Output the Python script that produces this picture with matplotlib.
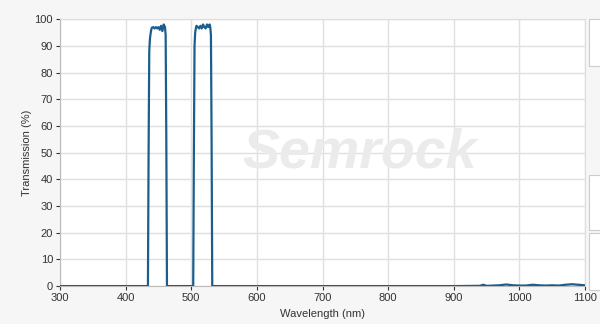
import matplotlib
matplotlib.use("Agg")
import matplotlib.pyplot as plt
from matplotlib.patches import Rectangle

plt.rcParams['font.family'] = ['Liberation Sans', 'DejaVu Sans']

wavelength = [300, 434, 435, 436, 437, 438, 439, 440, 442, 444, 446, 448, 450, 452, 454, 456, 458, 460, 461, 462, 463, 500,
              503, 504, 505, 506, 507, 508, 510, 512, 514, 516, 518, 520, 522, 524, 526, 528, 529, 530, 531, 532, 600,
              900, 940, 945, 950, 960, 970, 980, 990, 1000, 1010, 1020, 1030, 1040, 1050, 1060, 1070, 1080, 1090, 1100]
transmission = [0, 0, 50, 88, 92.5, 94.5, 96, 96.8, 97, 96.5, 97, 96.5, 97, 96, 97.5, 95.5, 98, 97, 94, 55, 0, 0,
                0, 50, 90, 95, 96.5, 97.5, 97, 96.5, 97.5, 96.5, 98, 97, 96.5, 98, 97, 98, 97, 94, 55, 0, 0,
                0, 0.1, 0.5, 0.1, 0.2, 0.3, 0.6, 0.3, 0.2, 0.2, 0.5, 0.3, 0.2, 0.3, 0.2, 0.5, 0.7, 0.5, 0.3]

x_ticks = [300, 400, 500, 600, 700, 800, 900, 1000, 1100]
y_ticks = [0, 10, 20, 30, 40, 50, 60, 70, 80, 90, 100]

fig = plt.figure(figsize=(6, 3.24), dpi=100, facecolor="#f6f6f6")
ax = fig.add_axes([0.1, 0.117, 0.875, 0.824])
ax.set_facecolor("white")

ax.plot(wavelength, transmission, color="#1b5e8c", lw=1.6, zorder=3)

ax.set_xlim(300, 1100)
ax.set_ylim(0, 100)
ax.set_xticks(x_ticks)
ax.set_yticks(y_ticks)
ax.grid(True, color="#e0e0e0", lw=1)
ax.set_axisbelow(True)
for s in ["top", "right"]:
    ax.spines[s].set_color("#dddddd")
for s in ["left", "bottom"]:
    ax.spines[s].set_color("#bbbbbb")
ax.tick_params(axis="both", labelsize=8, colors="#333333", length=3, pad=2)
ax.set_xlabel("Wavelength (nm)", fontsize=8, color="#333333", labelpad=4)
ax.set_ylabel("Transmission (%)", fontsize=8, color="#333333", labelpad=2)

ax.text(0.571, 0.495, "Semrock", transform=ax.transAxes, fontsize=40, fontweight="bold",
        fontstyle="italic", color="#ebebeb", ha="center", va="center", zorder=1)

for (top, bottom) in [(19, 66), (175, 230), (233, 290)]:
    fig.patches.append(Rectangle((589 / 600, 1 - bottom / 324), 0.03, (bottom - top) / 324,
                                 transform=fig.transFigure,
                                 facecolor="white", edgecolor="#cccccc", lw=0.8))

fig.savefig("out.png", dpi=100, facecolor=fig.get_facecolor())
